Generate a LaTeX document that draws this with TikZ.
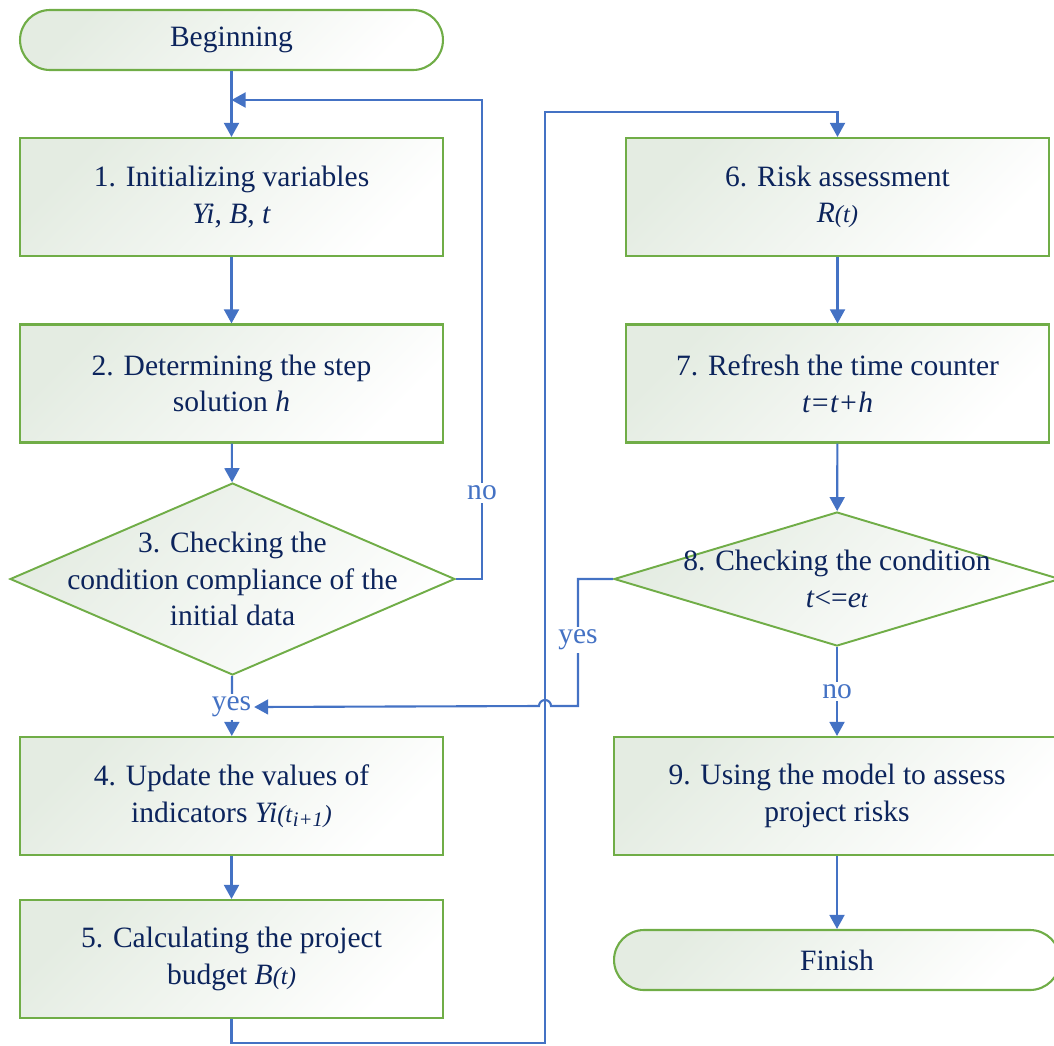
\documentclass[tikz,border=0pt]{standalone}
\usepackage{fontspec}
\setmainfont{Liberation Serif}
\usetikzlibrary{arrows.meta, shapes.geometric}
\definecolor{boxgreen}{RGB}{112,173,71}
\definecolor{lineblue}{RGB}{68,114,196}
\definecolor{textnavy}{RGB}{12,36,92}
\definecolor{boxfill}{RGB}{228,236,226}
\newcommand{\smallit}[1]{{\fontsize{14}{16}\selectfont\textit{#1}}}
\tikzset{
  flowfont/.style={font=\fontsize{16.8}{20.8}\selectfont},
  flowbox/.style={draw=boxgreen, line width=1.2pt, top color=boxfill, middle color=white, bottom color=white, shading angle=45, minimum width=8.46cm, minimum height=2.36cm, text=textnavy, align=center, inner sep=0pt, flowfont},
  termbox/.style={flowbox, minimum height=1.2cm, rounded corners=0.6cm},
  flowdiamond/.style={diamond, draw=boxgreen, line width=1.1pt, top color=boxfill, middle color=white, bottom color=white, shading angle=45, inner sep=0pt},
  flowtext/.style={text=textnavy, align=center, inner sep=0pt, flowfont},
  flowline/.style={draw=lineblue, line width=1.2pt},
  flowarrow/.style={flowline, -{Triangle[length=8pt, width=8.5pt]}},
  flowlabel/.style={fill=white, text=lineblue, inner sep=1.5pt, flowfont}
}
\begin{document}
\begin{tikzpicture}[x=0.02cm, y=-0.02cm]
\useasboundingbox (0,0) rectangle (1054,1045);
\clip (0,0) rectangle (1054,1045);

\node[termbox] (begin) at (231.5,40) {Beginning};
\node[flowbox] (init) at (231.5,197) {1. Initializing variables\\\textit{Yi}, \textit{B}, \textit{t}};
\node[flowbox] (step) at (231.5,383.5) {2. Determining the step\\solution \textit{h}};
\node[flowdiamond, minimum width=8.9cm, minimum height=3.84cm] (check) at (232.5,579) {};
\node[flowtext] (checktxt) at (check.center) {3. Checking the\\condition compliance of the\\initial data};
\node[flowbox] (update) at (231.5,796) {4. Update the values of\\indicators \textit{Yi}\smallit{(t}\textsubscript{\textit{i+1}}\smallit{)}};
\node[flowbox] (budget) at (231.5,959) {5. Calculating the project\\budget \textit{B}\smallit{(t)}};

\node[flowbox] (risk) at (837.5,197) {6. Risk assessment\\\textit{R}\smallit{(t)}};
\node[flowbox] (refresh) at (837.5,383.5) {7. Refresh the time counter\\\textit{t=t+h}};
\node[flowdiamond, minimum width=8.92cm, minimum height=2.68cm] (cond) at (837,579) {};
\node[flowtext] (condtxt) at (cond.center) {8. Checking the condition\\\textit{t}<=\textit{e}\smallit{t}};
\node[flowbox, minimum width=8.92cm] (model) at (837,796) {9. Using the model to assess\\project risks};
\node[termbox, minimum width=8.92cm] (finish) at (837,960) {Finish};

\draw[flowarrow] (begin) -- (init);
\draw[flowarrow] (check.east) -- (482,579) -- node[flowlabel, pos=0.18] (noa) {no} (482,100) -- (231.5,100);
\draw[flowarrow] (init) -- (step);
\draw[flowarrow] (step) -- (check);
\draw[flowarrow] (check) -- (update);
\node[flowlabel] (yesa) at (231.5,707) {yes};
\draw[flowarrow] (update) -- (budget);
\draw[flowarrow] (budget) -- (231.5,1043) -- (545,1043) -- (545,112) -- (837.5,112) -- (risk);

\draw[flowarrow] (risk) -- (refresh);
\draw[flowarrow] (refresh) -- (cond);
\draw[flowarrow] (cond.west) -- (578,579) -- node[flowlabel, pos=0.48] (yesb) {yes} (578,706) -- (551,706) arc (0:180:0.12cm) -- (yesa.east);
\draw[flowarrow] (cond) -- node[flowlabel] (nob) {no} (model);
\draw[flowarrow] (model) -- (finish);

\end{tikzpicture}
\end{document}
